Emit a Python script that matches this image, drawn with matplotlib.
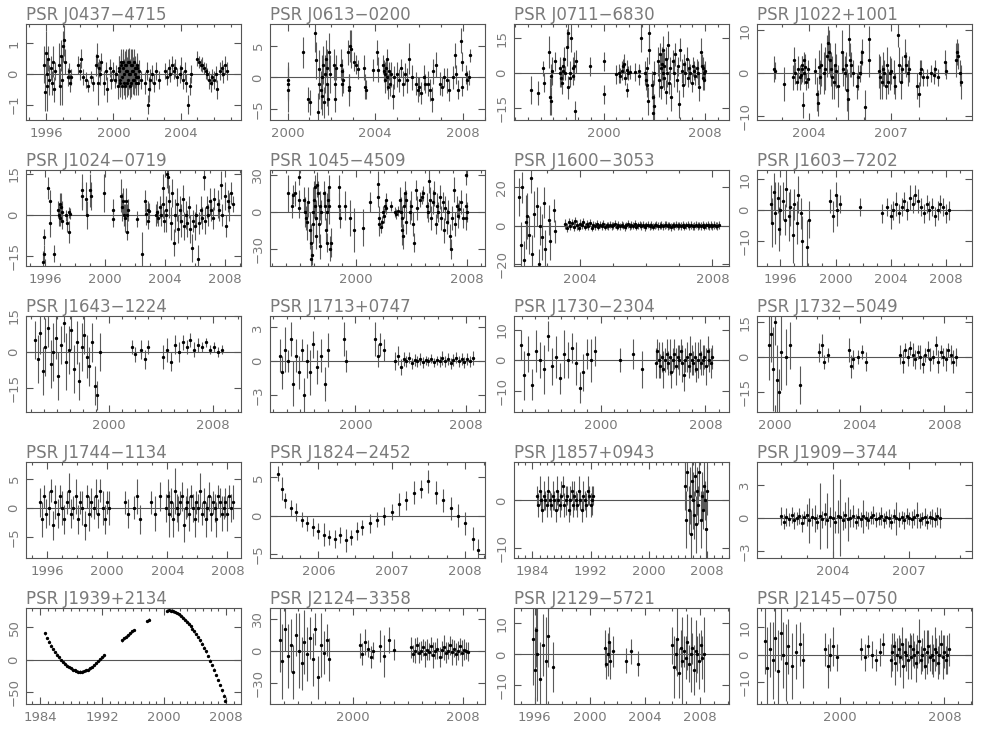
import numpy as np
import matplotlib
matplotlib.use("Agg")
import matplotlib.pyplot as plt
from matplotlib.ticker import MultipleLocator

# each row: year, residual, error (microseconds)
j0437 = np.array([
    [1995.90, 0.3, 0.6], [1995.95, -0.6, 0.6], [1996.00, 0.7, 0.7], [1996.03, 0.0, 0.5],
    [1996.06, -0.4, 0.8], [1996.10, 0.5, 0.4], [1996.14, -0.2, 0.5], [1996.30, 0.2, 0.4],
    [1996.36, -0.3, 0.4], [1996.42, 0.4, 0.5], [1996.48, -0.5, 0.4], [1996.55, 0.1, 0.3],
    [1996.75, 0.3, 0.7], [1996.82, -0.4, 0.6], [1996.88, 0.6, 0.5], [1996.95, -0.2, 0.8],
    [1997.02, 0.9, 0.5], [1997.08, 1.1, 0.5], [1997.14, 0.4, 0.4], [1997.30, -0.1, 0.3],
    [1997.36, 0.1, 0.25], [1997.42, -0.3, 0.3], [1997.50, -0.1, 0.25], [1997.90, 0.3, 0.3],
    [1998.00, 0.1, 0.3], [1998.10, 0.5, 0.3], [1998.20, -0.1, 0.25], [1998.40, -0.2, 0.25],
    [1998.52, -0.4, 0.2], [1998.65, -0.1, 0.2], [1998.78, -0.3, 0.25], [1998.95, 0.3, 0.35],
    [1999.02, 0.6, 0.4], [1999.08, -0.3, 0.7], [1999.14, 0.2, 0.3], [1999.20, 0.0, 0.35],
    [1999.28, 0.4, 0.3], [1999.45, -0.3, 0.4], [1999.55, 0.1, 0.3], [1999.65, -0.5, 0.4],
    [1999.78, 0.2, 0.3], [1999.88, -0.2, 0.3], [2000.00, 0.1, 0.3], [2000.08, -0.2, 0.25],
    [2000.16, 0.0, 0.3], [2000.28, -0.4, 0.4], [2000.31, 0.1, 0.5], [2000.34, 0.2, 0.4],
    [2000.37, -0.2, 0.5], [2000.40, -0.3, 0.45], [2000.43, 0.4, 0.4], [2000.46, 0.3, 0.4],
    [2000.49, -0.4, 0.4], [2000.52, -0.1, 0.5], [2000.55, 0.2, 0.5], [2000.58, 0.4, 0.4],
    [2000.61, -0.3, 0.4], [2000.64, 0.0, 0.5], [2000.67, 0.3, 0.45], [2000.70, -0.4, 0.4],
    [2000.73, 0.1, 0.5], [2000.76, 0.3, 0.5], [2000.79, -0.3, 0.45], [2000.82, 0.1, 0.45],
    [2000.85, 0.4, 0.4], [2000.88, -0.2, 0.5], [2000.91, 0.0, 0.5], [2000.94, 0.4, 0.45],
    [2000.97, -0.4, 0.4], [2001.00, 0.0, 0.5], [2001.03, 0.3, 0.5], [2001.06, -0.3, 0.45],
    [2001.09, 0.1, 0.5], [2001.12, 0.3, 0.5], [2001.15, -0.2, 0.45], [2001.18, 0.1, 0.45],
    [2001.21, 0.4, 0.4], [2001.24, -0.2, 0.5], [2001.27, 0.0, 0.45], [2001.30, 0.2, 0.4],
    [2001.33, -0.3, 0.4], [2001.36, -0.1, 0.45], [2001.39, 0.2, 0.4], [2001.42, 0.3, 0.4],
    [2001.45, -0.1, 0.4], [2001.48, -0.3, 0.4], [2001.55, 0.1, 0.35], [2001.62, -0.2, 0.3],
    [2001.90, -0.3, 0.35], [2001.98, 0.1, 0.3], [2002.05, -1.0, 0.3], [2002.12, -0.5, 0.4],
    [2002.20, -0.2, 0.35], [2002.30, 0.0, 0.3], [2002.42, -0.3, 0.3], [2002.55, 0.1, 0.3],
    [2002.70, -0.2, 0.3], [2003.10, 0.1, 0.25], [2003.20, -0.1, 0.25], [2003.30, 0.2, 0.3],
    [2003.40, 0.0, 0.25], [2003.50, 0.3, 0.3], [2003.60, 0.1, 0.25], [2003.70, 0.2, 0.3],
    [2003.80, -0.1, 0.3], [2003.95, 0.0, 0.3], [2004.05, 0.2, 0.35], [2004.15, -0.2, 0.3],
    [2004.25, 0.1, 0.3], [2004.35, -0.3, 0.3], [2004.45, -1.0, 0.3], [2004.55, -0.4, 0.3],
    [2004.65, 0.0, 0.3], [2005.00, 0.5, 0.25], [2005.10, 0.4, 0.2], [2005.20, 0.3, 0.2],
    [2005.30, 0.3, 0.25], [2005.40, 0.2, 0.2], [2005.50, 0.1, 0.25], [2005.60, 0.0, 0.2],
    [2005.70, -0.2, 0.3], [2005.80, -0.3, 0.3], [2005.90, -0.1, 0.25], [2006.00, -0.2, 0.3],
    [2006.10, 0.0, 0.25], [2006.20, -0.5, 0.3], [2006.35, 0.1, 0.3], [2006.45, 0.2, 0.25],
    [2006.55, 0.0, 0.3], [2006.65, 0.3, 0.3], [2006.75, 0.1, 0.3],
])

j0613 = np.array([
    [2000.00, -1.0, 2.8], [2000.02, -2.0, 3.5], [2000.04, -0.5, 3.0], [2000.70, 4.0, 2.5],
    [2000.95, -3.5, 2.0], [2001.02, -4.0, 2.0], [2001.25, 7.0, 3.0], [2001.28, 2.7, 3.0],
    [2001.40, -5.5, 3.0], [2001.42, 1.3, 3.0], [2001.45, -1.0, 2.5], [2001.52, -2.0, 3.0],
    [2001.55, 0.0, 3.5], [2001.58, -3.0, 3.0], [2001.62, 2.0, 3.0], [2001.65, -4.0, 2.5],
    [2001.70, 0.5, 3.0], [2001.73, 3.0, 3.0], [2001.78, -1.0, 3.5], [2001.82, 1.5, 3.0],
    [2001.86, -3.5, 2.5], [2001.90, 4.0, 3.0], [2001.95, 0.5, 3.0], [2002.10, 2.0, 2.5],
    [2002.14, -1.0, 2.5], [2002.18, -3.5, 2.0], [2002.22, 1.5, 2.0], [2002.45, 2.0, 2.5],
    [2002.48, 1.0, 2.0], [2002.50, -1.0, 2.0], [2002.53, -0.5, 2.0], [2002.75, 4.0, 2.0],
    [2002.78, -1.5, 2.0], [2002.80, -2.0, 2.5], [2002.85, 5.0, 2.5], [2002.90, 4.5, 3.0],
    [2003.05, 2.5, 1.5], [2003.10, 2.0, 1.5], [2003.20, 1.3, 1.5], [2003.50, 1.5, 2.0],
    [2003.53, -1.5, 2.0], [2003.56, -2.0, 1.5], [2003.90, 1.2, 1.8], [2004.10, 4.0, 2.0],
    [2004.13, 1.2, 2.0], [2004.35, 2.0, 1.5], [2004.38, 1.0, 1.8], [2004.42, 0.5, 2.0],
    [2004.45, -0.5, 2.0], [2004.48, 1.5, 1.5], [2004.52, 0.0, 2.0], [2004.55, 3.0, 1.5],
    [2004.58, -1.5, 2.0], [2004.62, 1.0, 1.5], [2004.65, -1.0, 2.0], [2004.70, 0.5, 2.0],
    [2004.80, -3.0, 2.0], [2004.85, 0.0, 1.8], [2005.00, 0.5, 2.0], [2005.10, -0.5, 1.8],
    [2005.15, 1.5, 1.5], [2005.25, -1.0, 2.0], [2005.35, 0.5, 1.8], [2005.45, -0.5, 2.0],
    [2005.55, 3.0, 2.5], [2005.65, 0.0, 2.0], [2005.85, -1.0, 1.8], [2005.95, -2.0, 2.0],
    [2006.00, -1.5, 1.5], [2006.10, -2.5, 1.8], [2006.20, 0.0, 2.0], [2006.28, -1.0, 1.5],
    [2006.40, -1.0, 2.0], [2006.50, -2.0, 1.8], [2006.58, -3.5, 2.0], [2006.65, 1.0, 2.0],
    [2006.75, 2.0, 2.0], [2006.95, -1.0, 1.8], [2007.05, -1.5, 1.5], [2007.15, 0.0, 1.5],
    [2007.25, -0.5, 2.0], [2007.35, -2.0, 1.8], [2007.55, 0.0, 1.8], [2007.62, 3.5, 2.0],
    [2007.70, 0.5, 1.5], [2007.78, -2.0, 1.5], [2007.90, 5.8, 2.0], [2007.94, 2.5, 1.5],
    [2007.97, -1.5, 1.5], [2008.15, 0.5, 1.5], [2008.20, -0.5, 1.5], [2008.25, 0.0, 1.2],
    [2008.32, 3.5, 1.0],
])

j0711 = np.array([
    [1994.25, -7, 6], [1994.80, -8.5, 5], [1995.20, 2, 3], [1995.25, -4, 4], [1995.70, 9, 7],
    [1995.75, -10, 8], [1995.80, -12, 6], [1995.85, -1, 5], [1995.90, 1, 6], [1996.15, 5, 4],
    [1996.50, 2, 5], [1996.55, 0, 6], [1996.60, -2, 4], [1996.70, -4, 5], [1996.75, 3, 4],
    [1996.80, 1, 4], [1996.85, 6, 5], [1996.90, 0, 3], [1997.10, 11, 8], [1997.15, 17, 6],
    [1997.20, -6, 5], [1997.30, 0, 5], [1997.35, -2, 4], [1997.40, 15, 6], [1997.55, 2, 5],
    [1997.60, -1, 4], [1997.65, 3, 6], [1997.75, -16, 4], [1997.80, 5, 5], [1998.90, 3, 4],
    [2000.00, 5, 4], [2000.05, -9, 4], [2000.95, -0.5, 4], [2001.20, 0, 4], [2001.30, -1, 3],
    [2001.40, 1, 4], [2001.50, 3, 3], [2001.60, 4, 4], [2001.70, -2, 3], [2001.80, 1.5, 4],
    [2001.85, -7, 3], [2001.95, 0, 3], [2002.10, 0.5, 3], [2002.50, 0.5, 4], [2002.75, 1, 3],
    [2002.80, -1, 4], [2002.95, 15, 6], [2003.25, 0, 5], [2003.30, -3, 4], [2003.40, -5, 5],
    [2003.45, 2, 5], [2003.50, -12, 6], [2003.55, 17, 7], [2003.60, 10, 6], [2003.85, -5, 6],
    [2003.90, -10, 7], [2003.93, -17, 6], [2003.96, -14, 5], [2004.00, 0, 5], [2004.30, 5, 6],
    [2004.40, -3, 7], [2004.45, 8, 5], [2004.50, 2, 6], [2004.55, -6, 5], [2004.60, 4, 7],
    [2004.65, 0, 6], [2004.70, 10, 6], [2004.75, -2, 5], [2004.80, 3, 6], [2004.90, -8, 5],
    [2004.95, 6, 5], [2005.00, 0, 6], [2005.10, 12, 6], [2005.15, -4, 5], [2005.25, 2, 5],
    [2005.35, -10, 6], [2005.45, 5, 5], [2005.55, 0, 6], [2005.65, 8, 5], [2005.75, -3, 5],
    [2005.85, 3, 4], [2005.95, -13, 6], [2006.05, 10, 5], [2006.15, 1, 5], [2006.25, -5, 5],
    [2006.35, 4, 4], [2006.45, 0, 5], [2006.55, 6, 5], [2006.65, -2, 4], [2006.75, 2, 4],
    [2006.85, 0, 4], [2006.95, -4, 4], [2007.05, 3, 4], [2007.15, 1, 4], [2007.25, -1, 4],
    [2007.35, 2, 4], [2007.45, 0, 5], [2007.55, -6, 6], [2007.65, 9, 6], [2007.75, 3, 5],
    [2007.82, 2, 5], [2007.88, -2, 5], [2007.92, 0, 4], [2007.96, -3, 4], [2008.00, 1, 4],
])

j1022 = np.array([
    [2002.73, 1, 3], [2002.76, 0.5, 2], [2003.07, -2.5, 4], [2003.40, -1, 3], [2003.45, 3, 3],
    [2003.50, 0, 2.5], [2003.55, -2, 2], [2003.60, 1, 3], [2003.68, -1, 3], [2003.72, -0.5, 2],
    [2003.74, 2, 2], [2003.76, 1, 3], [2003.78, -7.5, 3], [2003.80, 3, 2], [2003.82, 0, 2.5],
    [2003.85, 1.5, 3], [2003.88, -2, 2], [2003.95, 1, 2], [2003.98, -1.5, 2], [2004.20, 0.5, 3],
    [2004.30, -5, 4], [2004.33, -7, 3], [2004.36, 1.5, 4], [2004.40, -1, 4], [2004.45, 2, 5],
    [2004.55, 0, 5], [2004.60, 1, 5], [2004.65, 4, 5], [2004.70, 7, 4], [2004.72, 5, 5],
    [2004.75, 3, 4], [2004.80, 1, 4], [2004.85, -1, 5], [2004.90, -2, 4], [2004.95, 2, 5],
    [2005.00, 0.5, 4], [2005.05, -3, 5], [2005.20, 5, 5], [2005.25, 1, 4], [2005.30, 0, 4],
    [2005.35, 2, 3], [2005.40, -4, 5], [2005.42, -6, 6], [2005.45, 8, 4], [2005.50, 3, 4],
    [2005.55, 2, 3], [2005.60, 0, 3], [2005.75, -3, 3], [2005.80, -1, 3], [2005.85, 0, 2],
    [2005.90, 2.5, 3], [2005.95, 5, 3], [2006.05, -8, 4], [2006.18, 8, 3], [2006.20, 3, 4],
    [2006.55, 0.5, 4], [2006.60, -1, 5], [2006.65, -2, 4], [2006.70, 1, 4], [2006.75, 0, 3],
    [2006.80, -3, 3], [2006.85, 2, 4], [2006.90, -2, 3], [2006.95, 0, 4], [2007.00, 0.5, 3],
    [2007.10, -1, 4], [2007.15, -3, 3], [2007.25, 9, 3], [2007.30, 2, 4], [2007.35, -2, 4],
    [2007.40, 1, 3], [2007.50, 4, 4], [2007.55, 2, 3], [2007.60, 0, 3], [2007.65, 1, 3],
    [2007.95, -3, 3], [2008.00, -5, 3], [2008.05, 0, 3], [2008.10, 1, 2], [2008.15, -1, 2],
    [2008.30, -1, 2], [2008.45, 0, 2], [2008.55, -0.5, 2], [2008.60, 1, 2], [2008.70, -1, 2],
    [2008.95, 2.5, 3], [2009.00, 0.5, 2], [2009.35, 3, 4], [2009.40, 5, 3], [2009.45, 4, 3],
    [2009.50, 0, 3], [2009.55, -2, 4],
])

j1024 = np.array([
    [1995.85, -17, 4], [1995.88, -14, 3], [1995.92, -8, 3], [1996.15, 10, 4], [1996.30, 5, 4],
    [1996.33, -3, 5], [1996.60, -14, 3], [1996.85, 2, 3], [1996.90, 0, 4], [1996.95, 4, 4],
    [1997.00, -1, 3], [1997.05, 3, 5], [1997.10, 1, 4], [1997.12, -2, 3], [1997.35, 0, 2],
    [1997.45, -3, 3], [1997.55, -6, 4], [1997.60, 1, 2], [1997.65, 0.5, 2], [1998.45, 9, 6],
    [1998.48, 7, 5], [1998.75, 6, 6], [1998.80, 0, 5], [1999.00, 9, 6], [1999.05, 7, 5],
    [1999.90, 8, 7], [2000.50, 2, 4], [2000.53, -1.5, 3], [2001.05, 7, 6], [2001.10, 3, 5],
    [2001.20, 5, 5], [2001.25, 0, 4], [2001.30, -1, 5], [2001.40, 5, 5], [2001.45, 0, 4],
    [2001.48, -6, 3], [2001.52, 2, 4], [2002.15, -1.5, 3], [2002.50, -14, 8], [2002.70, 5, 4],
    [2002.75, 0.5, 4], [2002.85, 2, 3], [2002.90, -2, 3], [2002.95, 1.5, 3], [2003.40, 0, 4],
    [2003.50, 1, 4], [2003.55, -1, 3], [2003.65, 3, 4], [2003.75, 0, 4], [2003.85, 10, 5],
    [2003.90, 4, 5], [2003.95, -2, 4], [2004.05, 0, 6], [2004.10, 2, 5], [2004.15, 15, 5],
    [2004.20, 14, 6], [2004.30, 5, 6], [2004.40, -3, 6], [2004.50, 8, 5], [2004.60, -10, 5],
    [2004.70, 0, 6], [2004.80, 4, 6], [2004.90, -5, 5], [2005.00, 2, 5], [2005.10, -2, 6],
    [2005.20, 6, 5], [2005.30, -4, 5], [2005.40, 0, 5], [2005.50, -3, 5], [2005.60, 3, 4],
    [2005.70, -5, 5], [2005.80, -12, 5], [2005.90, -2, 4], [2006.00, -4, 5], [2006.10, 0, 4],
    [2006.20, -16, 5], [2006.30, -3, 4], [2006.40, 2, 5], [2006.50, -1, 4], [2006.60, 14, 5],
    [2006.70, -2, 5], [2006.80, 3, 4], [2006.90, 0, 4], [2007.00, 5, 5], [2007.10, 2, 4],
    [2007.20, -1, 4], [2007.30, 6, 4], [2007.55, 4, 5], [2007.65, 2, 4], [2007.75, 11, 5],
    [2007.85, 0, 4], [2008.00, 7, 5], [2008.10, -4, 4], [2008.20, 5, 4], [2008.30, 3, 5],
    [2008.45, 8, 4], [2008.55, 4, 3],
])

b1045 = np.array([
    [1995.10, 15, 15], [1995.40, 5, 10], [1995.45, 14, 8], [1995.65, 15, 10], [1995.90, 28, 6],
    [1995.92, 10, 8], [1995.95, 3, 8], [1996.30, 10, 10], [1996.35, 0, 12], [1996.40, -5, 10],
    [1996.50, -8, 15], [1996.55, 8, 12], [1996.70, -15, 15], [1996.75, -25, 15], [1996.80, -38, 10],
    [1996.85, -35, 8], [1996.90, -10, 15], [1996.95, 0, 20], [1997.00, 10, 15], [1997.05, 20, 10],
    [1997.10, 5, 12], [1997.12, -20, 10], [1997.15, -5, 15], [1997.18, 22, 10], [1997.30, 15, 10],
    [1997.35, -10, 15], [1997.40, -28, 10], [1997.45, 5, 12], [1997.50, 0, 10], [1997.75, 15, 10],
    [1997.80, 5, 12], [1997.85, -15, 10], [1997.90, -25, 8], [1997.95, 0, 15], [1998.00, 10, 10],
    [1998.05, 20, 10], [1998.10, 5, 15], [1998.15, -30, 10], [1998.20, -25, 12], [1998.80, 20, 10],
    [1998.82, 5, 10], [1998.85, -5, 8], [1999.20, 5, 12], [1999.60, -5, 15], [1999.90, -15, 18],
    [2000.55, -13, 15], [2001.05, 8, 8], [2001.60, 23, 10], [2001.62, 12, 8], [2001.65, -5, 10],
    [2001.68, -10, 10], [2001.85, -12, 5], [2001.90, -8, 5], [2001.95, 0, 5], [2002.00, -3, 6],
    [2002.10, 5, 5], [2002.15, 3, 5], [2002.20, 10, 5], [2002.55, 5, 4], [2002.80, 0, 4],
    [2002.90, -2, 4], [2003.05, 1, 4], [2003.20, 10, 10], [2003.25, 0, 12], [2003.30, -5, 10],
    [2003.35, -15, 12], [2003.40, -20, 10], [2003.50, 5, 10], [2003.55, 15, 10], [2003.60, 10, 8],
    [2003.65, -8, 10], [2003.90, 0, 10], [2004.00, 5, 12], [2004.10, -10, 10], [2004.20, -25, 8],
    [2004.30, 18, 8], [2004.40, 3, 10], [2004.60, 10, 6], [2004.75, 12, 6], [2004.85, 15, 6],
    [2005.10, 5, 10], [2005.20, 0, 8], [2005.30, 25, 10], [2005.35, 10, 10], [2005.45, -5, 10],
    [2005.55, 8, 10], [2005.65, 15, 10], [2005.75, -10, 8], [2005.85, 5, 10], [2005.95, 0, 8],
    [2006.05, 12, 10], [2006.15, -5, 10], [2006.25, 8, 8], [2006.35, -15, 10], [2006.45, 3, 10],
    [2006.55, -8, 10], [2006.65, 0, 10], [2006.75, -20, 10], [2006.85, -30, 8], [2006.95, -5, 10],
    [2007.05, 18, 10], [2007.15, -10, 10], [2007.25, 5, 8], [2007.35, -3, 10], [2007.45, 2, 8],
    [2007.55, 8, 10], [2007.70, -5, 8], [2007.90, 30, 8], [2007.93, 5, 10], [2007.96, -5, 10],
    [2008.00, 0, 8],
])

j1600 = np.array([
    [2002.15, 15, 10], [2002.20, -10, 12], [2002.25, 20, 8], [2002.30, -18, 10], [2002.35, 2, 14],
    [2002.40, 5, 12], [2002.45, -5, 10], [2002.50, 25, 8], [2002.55, -15, 10], [2002.60, 6, 12],
    [2002.70, 10, 10], [2002.75, -20, 8], [2002.80, 0, 10], [2002.85, -6, 12], [2002.90, 12, 8],
    [2002.95, -12, 10], [2003.05, 3, 8], [2003.10, -8, 10], [2003.20, 8, 6], [2003.25, -3, 6],
    [2003.55, 1.0, 2.5], [2003.60, -1.0, 2.5], [2003.65, 2.0, 2.2], [2003.70, 0.0, 2.5],
    [2003.75, 1.5, 2.0], [2003.80, -0.5, 2.5], [2003.85, 2.5, 2.0], [2003.90, 0.5, 2.5],
    [2003.95, -1.0, 2.0], [2004.00, 1.0, 2.5], [2004.05, 0.5, 2.0], [2004.10, 2.0, 2.0],
    [2004.15, -0.5, 2.0], [2004.20, 1.0, 2.0], [2004.25, 0.0, 2.0], [2004.30, 1.5, 1.8],
    [2004.35, -1.0, 2.0], [2004.40, 0.5, 1.8], [2004.45, 0.0, 2.0], [2004.50, 1.0, 1.8],
    [2004.55, -0.5, 1.8], [2004.60, 0.5, 1.8], [2004.65, 0.0, 2.0], [2004.70, 1.0, 1.8],
    [2004.75, -0.5, 2.0], [2004.80, 0.3, 1.8], [2004.85, 0.0, 2.0], [2004.90, 0.5, 1.8],
    [2004.95, -0.3, 2.0], [2005.00, 0.2, 1.8], [2005.05, 0.8, 2.0], [2005.10, -0.6, 1.8],
    [2005.15, 0.4, 2.0], [2005.20, -0.2, 1.8], [2005.25, 0.6, 2.0], [2005.30, 0.0, 1.8],
    [2005.35, -0.8, 2.0], [2005.40, 0.3, 1.8], [2005.45, 0.9, 2.0], [2005.50, -0.4, 1.8],
    [2005.55, 0.2, 2.0], [2005.60, -0.1, 1.8], [2005.65, 0.7, 2.0], [2005.70, -0.5, 1.8],
    [2005.75, 0.1, 2.0], [2005.80, 0.4, 1.8], [2005.85, -0.3, 2.0], [2005.90, 0.5, 1.8],
    [2005.95, -0.6, 2.0], [2006.00, 0.2, 1.8], [2006.05, 0.6, 2.0], [2006.10, -0.2, 1.8],
    [2006.15, 0.3, 2.0], [2006.20, -0.5, 1.8], [2006.25, 0.1, 2.0], [2006.30, 0.5, 1.8],
    [2006.35, -0.3, 2.0], [2006.40, 0.0, 1.8], [2006.45, 0.4, 2.0], [2006.50, -0.4, 1.8],
    [2006.55, 0.2, 2.0], [2006.60, 0.6, 1.8], [2006.65, -0.2, 2.0], [2006.70, 0.1, 1.8],
    [2006.75, -0.6, 2.0], [2006.80, 0.3, 1.8], [2006.85, 0.0, 2.0], [2006.90, 0.5, 1.8],
    [2006.95, -0.3, 2.0], [2007.00, 0.2, 1.8], [2007.05, -0.1, 2.0], [2007.10, 0.4, 1.8],
    [2007.15, -0.5, 2.0], [2007.20, 0.1, 1.8], [2007.25, 0.6, 2.0], [2007.30, -0.2, 1.8],
    [2007.35, 0.3, 2.0], [2007.40, -0.4, 1.8], [2007.45, 0.0, 2.0], [2007.50, 0.5, 1.8],
    [2007.55, -0.3, 2.0], [2007.60, 0.2, 1.8], [2007.65, -0.1, 2.0], [2007.70, 0.4, 1.8],
    [2007.75, -0.5, 2.0], [2007.80, 0.1, 1.8], [2007.85, 0.3, 2.0], [2007.90, -0.2, 1.8],
    [2007.95, 0.5, 2.0], [2008.00, -0.4, 1.8], [2008.05, 0.2, 2.0], [2008.10, 0.0, 1.8],
    [2008.15, -0.3, 2.0], [2008.20, 0.3, 2.0],
])

j1603 = np.array([
    [1995.3, 2, 6], [1995.4, -4, 8], [1995.5, 6, 6], [1995.6, -1, 10], [1995.8, 4, 5],
    [1995.9, -6, 7], [1996.0, 0, 8], [1996.2, 3, 6], [1996.3, -3, 5], [1996.4, 7, 6],
    [1996.6, -2, 8], [1996.7, 1, 6], [1996.9, -8, 9], [1997.0, 2, 5], [1997.2, -4, 7],
    [1997.3, 5, 6], [1997.5, -1, 5], [1997.6, -10, 8], [1997.9, -12, 9], [1998.1, -3, 6],
    [1999.6, 3, 4], [1999.8, -2, 5], [2000.0, 5, 4], [2000.1, 0, 5], [2000.3, 2, 3],
    [2001.8, 1, 3], [2003.4, -1, 3], [2003.7, 1, 3], [2004.0, -2, 4], [2004.2, 0, 3],
    [2004.4, 2, 4], [2004.6, -1, 3], [2004.8, 1, 3], [2005.0, 3, 3], [2005.2, 0, 3],
    [2005.4, 4, 4], [2005.6, 2, 3], [2005.8, 5, 3], [2006.0, 3, 4], [2006.2, 1, 3],
    [2006.4, -1, 3], [2006.6, 2, 3], [2006.8, 0, 3], [2007.0, 1, 3], [2007.2, -2, 3],
    [2007.4, 0, 3], [2007.6, 2, 3], [2007.8, 1, 3], [2008.0, -1, 3], [2008.2, 0, 3],
])

j1643 = np.array([
    [1994.3, 5, 8], [1994.5, -3, 10], [1994.7, 8, 9], [1994.9, -8, 10], [1995.1, 2, 12],
    [1995.3, 10, 8], [1995.5, -5, 10], [1995.7, 0, 12], [1995.9, 6, 9], [1996.1, -10, 10],
    [1996.3, 3, 8], [1996.5, 12, 8], [1996.7, -4, 12], [1996.9, 1, 10], [1997.1, 9, 8],
    [1997.3, -7, 10], [1997.5, 4, 9], [1997.7, -12, 8], [1997.9, 2, 10], [1998.1, 7, 8],
    [1998.3, -2, 9], [1998.5, -6, 8], [1998.7, 4, 8], [1998.9, -14, 8], [1999.1, -18, 6],
    [1999.3, 0, 8], [2001.8, 2, 3], [2002.0, -1, 3], [2002.5, 1, 4], [2002.8, -3, 4],
    [2003.0, 2, 3], [2004.2, -2, 5], [2004.5, 1, 5], [2004.8, -4, 4], [2005.1, 3, 4],
    [2005.4, 0, 4], [2005.7, 4, 3], [2006.0, 2, 3], [2006.3, 5, 3], [2006.6, 1, 3],
    [2006.9, 3, 3], [2007.2, 2, 2], [2007.5, 4, 2], [2007.8, 1, 2], [2008.1, 2, 2],
    [2008.4, 0, 2], [2008.7, 1, 2],
])

j1713 = np.array([
    [1994.5, 0.5, 1.5], [1994.7, -1, 1.5], [1994.9, 1, 2], [1995.1, 0, 1], [1995.3, 2, 1.5],
    [1995.5, -2, 2], [1995.7, 0.5, 1.5], [1995.9, -1, 1.5], [1996.1, 1, 1], [1996.3, -3, 1.5],
    [1996.5, 0, 1.5], [1996.7, -1, 2], [1996.9, 1.5, 1.2], [1997.2, -0.5, 1.5], [1997.5, 0.5, 1.5],
    [1997.8, -2, 1.5], [1998.0, 1, 1.5], [1999.2, 2, 1.5], [1999.3, 0, 1], [2001.4, 2, 1.5],
    [2001.6, 0.5, 1], [2001.8, 1.5, 1], [2002.1, 1, 1], [2002.9, 0, 0.8], [2003.1, 0.5, 0.8],
    [2003.3, -0.5, 0.7], [2003.5, 0.2, 0.6], [2003.7, 0, 0.5], [2003.9, 0.3, 0.5], [2004.1, -0.2, 0.5],
    [2004.3, 0.1, 0.5], [2004.5, 0, 0.5], [2004.7, 0.2, 0.5], [2004.9, -0.1, 0.5], [2005.1, 0.1, 0.4],
    [2005.3, 0, 0.4], [2005.5, 0.2, 0.4], [2005.7, -0.1, 0.4], [2005.9, 0.1, 0.4], [2006.1, 0, 0.5],
    [2006.3, 0.3, 0.6], [2006.5, 0, 0.5], [2006.7, 0.2, 0.5], [2006.9, -0.2, 0.5], [2007.1, 0.1, 0.5],
    [2007.3, 0.3, 0.5], [2007.5, 0, 0.5], [2007.7, 0.2, 0.5], [2007.9, -0.1, 0.5], [2008.1, 0.2, 0.5],
    [2008.3, 0, 0.5], [2008.5, 0.3, 0.6],
])

j1730 = np.array([
    [1993.9, 5, 5], [1994.2, -5, 8], [1994.5, 2, 6], [1994.8, -8, 5], [1995.1, 3, 7],
    [1995.4, 0, 6], [1995.7, -3, 8], [1996.0, 8, 5], [1996.3, -2, 6], [1996.6, 1, 7],
    [1996.9, -6, 5], [1997.2, 2, 8], [1997.5, 0, 6], [1997.8, 4, 5], [1998.1, -1, 7],
    [1998.4, -9, 5], [1998.7, -4, 6], [1999.0, 2, 5], [1999.3, 0, 7], [1999.6, 3, 5],
    [2001.5, 0, 4], [2002.5, 2, 5], [2003.2, -3, 6],
    [2004.20, -1, 5], [2004.32, 3, 4], [2004.44, 0, 6], [2004.56, -2, 4], [2004.68, 1, 5],
    [2004.80, -3, 6], [2004.92, 0, 4], [2005.04, 2, 5], [2005.16, -1, 4], [2005.28, 1, 6],
    [2005.40, -4, 5], [2005.52, 0, 4], [2005.64, 2, 5], [2005.76, -2, 6], [2005.88, 1, 4],
    [2006.00, 0, 5], [2006.12, 3, 4], [2006.24, -1, 6], [2006.36, -5, 5], [2006.48, 0, 4],
    [2006.60, 1, 5], [2006.72, -2, 4], [2006.84, 2, 6], [2006.96, 0, 5], [2007.08, -1, 4],
    [2007.20, 1, 5], [2007.32, -3, 4], [2007.44, 0, 6], [2007.56, 2, 5], [2007.68, -1, 4],
    [2007.80, 0, 5], [2007.92, 1, 4], [2008.04, -2, 6], [2008.16, 3, 5], [2008.28, 0, 4],
    [2008.40, -1, 5], [2008.52, 1, 4],
])

j1732 = np.array([
    [1999.7, 5, 15], [1999.8, 10, 12], [1999.9, -5, 18], [2000.0, 15, 10], [2000.1, -10, 15],
    [2000.2, -15, 10], [2000.3, 2, 16], [2000.5, 0, 12], [2000.7, 5, 10], [2001.2, -12, 8],
    [2002.1, 2, 4], [2002.2, 5, 5], [2002.3, -2, 3], [2002.5, 1, 3], [2003.5, 3, 5],
    [2003.6, -4, 5], [2003.7, -1, 4], [2003.9, 0, 3], [2004.1, 2, 3], [2004.3, -2, 4],
    [2005.90, 1, 4], [2006.02, -2, 5], [2006.14, 3, 3], [2006.26, 0, 4], [2006.38, 4, 3],
    [2006.50, 1, 5], [2006.62, -1, 4], [2006.74, 2, 3], [2006.86, 0, 5], [2006.98, -3, 4],
    [2007.10, 1, 3], [2007.22, 3, 4], [2007.34, -1, 5], [2007.46, 0, 3], [2007.58, 5, 4],
    [2007.70, -2, 5], [2007.82, 2, 3], [2007.94, 0, 4], [2008.06, -1, 5], [2008.18, 3, 3],
    [2008.30, 1, 4], [2008.42, -2, 5], [2008.54, 0, 4],
])

j1744 = np.array([
    [1995.50, 1, 2.5], [1995.65, -2, 3], [1995.80, 2, 2], [1995.95, -1, 2.5], [1996.10, 0, 3],
    [1996.25, 3, 2], [1996.40, -3, 2.5], [1996.55, 1, 3], [1996.70, -1, 2.5], [1996.85, 2, 2],
    [1997.00, 0, 3], [1997.15, -2, 2.5], [1997.30, 1, 2], [1997.45, 3, 3], [1997.60, -1, 2.5],
    [1997.75, 0, 2], [1997.90, 2, 3], [1998.05, -2, 2.5], [1998.20, 1, 2], [1998.35, 0, 3],
    [1998.50, -3, 2.5], [1998.65, 2, 2], [1998.80, -1, 3], [1998.95, 1, 2.5], [1999.10, 0, 2],
    [1999.25, 2, 3], [1999.40, -1, 2.5], [1999.55, 3, 2], [1999.70, 0, 3], [1999.85, -2, 2.5],
    [2000.00, 1, 2], [2000.15, 0, 3],
    [2001.2, 1, 2], [2001.4, -1, 2.5], [2001.8, 0, 2], [2002.0, 2, 3], [2002.2, -2, 2.5],
    [2002.9, 1, 2], [2003.2, -1, 3], [2003.5, 2, 2.5],
    [2003.90, 0, 2.5], [2004.02, 2, 3], [2004.14, -1, 4], [2004.26, 1, 2.5], [2004.38, -2, 3],
    [2004.50, 3, 4], [2004.62, 0, 2.5], [2004.74, -1, 3], [2004.86, 1, 2], [2004.98, 2, 2.5],
    [2005.10, -3, 3], [2005.22, 0, 2], [2005.34, 1, 2.5], [2005.46, -1, 3], [2005.58, 2, 2],
    [2005.70, 0, 2.5], [2005.82, -2, 3], [2005.94, 1, 2], [2006.06, 0, 2.5], [2006.18, 3, 3],
    [2006.30, -1, 2], [2006.42, 1, 2.5], [2006.54, -2, 3], [2006.66, 0, 2], [2006.78, 2, 2.5],
    [2006.90, -1, 3], [2007.02, 1, 2], [2007.14, 0, 2.5], [2007.26, -2, 3], [2007.38, 2, 2],
    [2007.50, 1, 2.5], [2007.62, -1, 3], [2007.74, 0, 2], [2007.86, 1, 2.5], [2007.98, -1, 3],
    [2008.10, 2, 2], [2008.22, 0, 2.5], [2008.34, 1, 3],
])

j1824 = np.array([
    [2005.45, 5.5, 1], [2005.50, 3.5, 1.5], [2005.55, 2.0, 1], [2005.62, 1.0, 1], [2005.70, 0.5, 1.2],
    [2005.78, -0.5, 1], [2005.85, -1.0, 1], [2005.92, -1.5, 1.2], [2006.00, -2.0, 1], [2006.08, -2.5, 1.5],
    [2006.15, -2.8, 1], [2006.22, -3.0, 1.2], [2006.30, -2.5, 1], [2006.38, -3.2, 1.5], [2006.45, -2.8, 1],
    [2006.52, -2.0, 1.2], [2006.60, -1.5, 1], [2006.70, -1.0, 1.2], [2006.80, -0.5, 1], [2006.90, 0.0, 1.2],
    [2007.00, 0.5, 1], [2007.10, 1.5, 1.5], [2007.20, 2.0, 1.2], [2007.30, 3.0, 1.5], [2007.40, 3.5, 1.2],
    [2007.50, 4.5, 1.5], [2007.60, 3.0, 1.5], [2007.70, 2.0, 1.5], [2007.80, 1.0, 1.5], [2007.90, 0.0, 1.5],
    [2008.00, -1.0, 1.5], [2008.10, -3.0, 1.5], [2008.18, -4.5, 1.5],
])

j1857 = np.array([
    [1984.6, 1, 2], [1984.8, -1, 2.5], [1985.0, 2, 3], [1985.2, 0, 2], [1985.4, -2, 2.5],
    [1985.6, 1, 3], [1985.8, 0, 2], [1986.0, -1, 2.5], [1986.2, 2, 3], [1986.4, 0, 2],
    [1986.6, -1, 2.5], [1986.8, 1, 3], [1987.0, 0, 2], [1987.2, -2, 2.5], [1987.4, 2, 3],
    [1987.6, 0, 2], [1987.8, -1, 2.5], [1988.0, 1, 3], [1988.2, 3, 2], [1988.4, -1, 2.5],
    [1988.6, 0, 3], [1988.8, 1, 2], [1989.0, -2, 2.5], [1989.2, 0, 3], [1989.4, 2, 2],
    [1989.6, -1, 2.5], [1989.8, 1, 3], [1990.0, 0, 2], [1990.2, -1, 2.5], [1990.4, 2, 3],
    [1990.6, 0, 2], [1990.8, -2, 2.5], [1991.0, 1, 3], [1991.2, 0, 2], [1991.4, -1, 2.5],
    [1991.6, 2, 3], [1991.8, 1, 2], [1992.0, -1, 2.5], [1992.2, 0, 3], [1992.4, 1, 2],
    [2005.00, 3, 5], [2005.15, -4, 6], [2005.30, 6, 4], [2005.45, -2, 5], [2005.60, 1, 6],
    [2005.75, -7, 5], [2005.90, 4, 4], [2006.05, 0, 6], [2006.20, -3, 5], [2006.35, 5, 4],
    [2006.50, -5, 6], [2006.65, 2, 5], [2006.80, -1, 4], [2006.95, 6, 5], [2007.10, -4, 6],
    [2007.25, 1, 5], [2007.40, -2, 4], [2007.55, 3, 5], [2007.70, 0, 4], [2007.85, -6, 6],
    [2008.00, 2, 5],
])

j1909 = np.array([
    [2002.0, 0.2, 0.8], [2002.1, -0.3, 0.7], [2002.2, 0.1, 0.8], [2002.3, -0.1, 0.6], [2002.4, 0.3, 0.7],
    [2002.5, -0.2, 0.8], [2002.6, 0.0, 0.6], [2002.7, 0.2, 0.7], [2002.8, -0.4, 0.8], [2002.9, 0.1, 0.6],
    [2003.0, 0.3, 1.0], [2003.1, -0.2, 2.0], [2003.2, 0.1, 0.8], [2003.3, 0.0, 1.2], [2003.4, -0.3, 0.7],
    [2003.5, 0.2, 3.0], [2003.6, -0.1, 0.8], [2003.7, 0.4, 1.0], [2003.8, -0.2, 2.5], [2003.9, 0.1, 0.9],
    [2004.0, 0.0, 4.0], [2004.1, -0.3, 1.0], [2004.2, 0.2, 1.5], [2004.3, 0.1, 3.5], [2004.4, -0.2, 0.9],
    [2004.5, 0.3, 1.2], [2004.6, -0.1, 2.0], [2004.7, 0.0, 0.8], [2004.8, 0.2, 1.0], [2004.9, -0.3, 0.7],
    [2005.0, 0.1, 0.8], [2005.1, -0.1, 0.7], [2005.2, 0.2, 1.5], [2005.3, 0.0, 0.7], [2005.4, -0.2, 0.8],
    [2005.5, 0.1, 0.6], [2005.6, 0.3, 0.8], [2005.7, -0.1, 0.7], [2005.8, 0.0, 0.6], [2005.9, 0.2, 0.8],
    [2006.0, -0.2, 0.7], [2006.1, 0.1, 0.6], [2006.2, 0.0, 0.8], [2006.3, -0.3, 0.7], [2006.4, 0.2, 0.6],
    [2006.5, 0.0, 1.5], [2006.6, -0.1, 0.7], [2006.7, 0.1, 0.6], [2006.8, -0.2, 0.8], [2006.9, 0.2, 0.7],
    [2007.0, 0.0, 0.6], [2007.1, -0.1, 0.8], [2007.2, 0.1, 0.7], [2007.3, 0.3, 1.2], [2007.4, -0.2, 0.7],
    [2007.5, 0.0, 0.6], [2007.6, 0.1, 0.8], [2007.7, -0.3, 0.7], [2007.8, 0.1, 0.6], [2007.9, 0.0, 0.8],
    [2008.0, -0.1, 0.7], [2008.1, 0.2, 0.8], [2008.2, 0.0, 0.9],
])

j1939 = np.array([
    [1984.70, 41, 2], [1984.95, 34, 2], [1985.20, 28, 2], [1985.45, 22, 2], [1985.70, 17, 2],
    [1985.95, 12, 2], [1986.20, 8, 2], [1986.45, 4, 2], [1986.70, 0, 2], [1986.95, -3, 2],
    [1987.20, -6, 2], [1987.45, -9, 2], [1987.70, -11, 2], [1987.95, -13, 2], [1988.20, -15, 2],
    [1988.45, -16, 2], [1988.70, -17, 2], [1988.95, -18, 2], [1989.20, -18, 2], [1989.45, -18, 2],
    [1989.70, -17, 2], [1989.95, -16, 2], [1990.20, -15, 2], [1990.45, -13, 2], [1990.70, -11, 2],
    [1990.95, -8, 2], [1991.20, -5, 2], [1991.45, -2, 2], [1991.70, 1, 2], [1991.95, 4, 2],
    [1992.20, 7, 2], [1994.60, 30, 2], [1994.85, 33, 2], [1995.10, 36, 2], [1995.35, 38, 2],
    [1995.60, 41, 2], [1995.85, 44, 2], [1996.10, 46, 2], [1997.80, 60, 2], [1998.00, 62, 2],
    [2000.40, 76, 2], [2000.65, 77, 2], [2000.90, 76, 2], [2001.15, 75, 2], [2001.40, 74, 2],
    [2001.65, 72, 2], [2001.90, 70, 2], [2002.15, 68, 2], [2002.40, 65, 2], [2002.65, 62, 2],
    [2002.90, 59, 2], [2003.15, 56, 2], [2003.40, 52, 2], [2003.65, 48, 2], [2003.90, 44, 2],
    [2004.15, 40, 2], [2004.40, 35, 2], [2004.65, 30, 2], [2004.90, 25, 2], [2005.15, 19, 2],
    [2005.40, 13, 2], [2005.65, 6, 2], [2005.90, -1, 2], [2006.15, -8, 2], [2006.40, -15, 2],
    [2006.65, -23, 2], [2006.90, -31, 2], [2007.15, -39, 2], [2007.40, -47, 2], [2007.65, -55, 2],
    [2007.90, -63, 2],
])

j2124 = np.array([
    [1994.7, 10, 30], [1994.9, -10, 35], [1995.1, 20, 20], [1995.3, -5, 30], [1995.5, 5, 25],
    [1995.7, -20, 25], [1995.9, 15, 20], [1996.1, 0, 35], [1996.3, -12, 25], [1996.5, 8, 30],
    [1996.7, -3, 25], [1996.9, 12, 20], [1997.1, -8, 25], [1997.3, 20, 15], [1997.5, -25, 20],
    [1997.7, 5, 30], [1997.9, -2, 20], [1998.1, 10, 15], [1998.3, -8, 20],
    [2000.5, 5, 12], [2000.7, -3, 10], [2000.9, 8, 12], [2001.1, 2, 8], [2001.3, -6, 10],
    [2001.5, 0, 8], [2002.0, 4, 15], [2002.3, -5, 20], [2002.6, 10, 12], [2003.0, 1, 10],
    [2004.20, 3, 10], [2004.35, -3, 8], [2004.50, 0, 12], [2004.65, 5, 8], [2004.80, -2, 10],
    [2004.95, 0, 9], [2005.10, 3, 8], [2005.25, -3, 12], [2005.40, 1, 10], [2005.55, -1, 8],
    [2005.70, 4, 9], [2005.85, -4, 12], [2006.00, 0, 8], [2006.15, 2, 10], [2006.30, -6, 9],
    [2006.45, 1, 8], [2006.60, 3, 12], [2006.75, -2, 10], [2006.90, 0, 8], [2007.05, 5, 9],
    [2007.20, -1, 12], [2007.35, 2, 8], [2007.50, -3, 10], [2007.65, 0, 9], [2007.80, 4, 8],
    [2007.95, -2, 12], [2008.10, 1, 10], [2008.25, 0, 8], [2008.40, -1, 9],
])

j2129 = np.array([
    [1995.9, 5, 15], [1996.0, -5, 14], [1996.1, 8, 12], [1996.2, 0, 15], [1996.4, -8, 12],
    [1996.6, 3, 10], [1996.8, -2, 14], [1997.0, 6, 10], [1997.3, -4, 8],
    [2001.1, 2, 6], [2001.2, -3, 5], [2001.3, 0, 7], [2001.4, 4, 5], [2001.5, -2, 6],
    [2001.7, 1, 5], [2002.6, -2, 4], [2003.0, 1, 4], [2003.5, -3, 4],
    [2006.00, 3, 6], [2006.12, -4, 10], [2006.24, 0, 5], [2006.36, 5, 12], [2006.48, -6, 8],
    [2006.60, 2, 6], [2006.72, -2, 14], [2006.84, 1, 5], [2006.96, -1, 7], [2007.08, 4, 9],
    [2007.20, -3, 6], [2007.32, 0, 12], [2007.44, 2, 5], [2007.56, -5, 8], [2007.68, 1, 10],
    [2007.80, 0, 6], [2007.92, -2, 9], [2008.04, 3, 5], [2008.16, -1, 7], [2008.28, 0, 12],
])

j2145 = np.array([
    [1994.3, 5, 12], [1994.5, -5, 15], [1994.7, 2, 10], [1994.9, -2, 14], [1995.1, 6, 12],
    [1995.3, -6, 15], [1995.5, 8, 10], [1995.7, 0, 12], [1995.9, -3, 14], [1996.1, 3, 10],
    [1996.4, -4, 12], [1996.7, 1, 10], [1997.0, 4, 8], [1997.2, -2, 10],
    [1998.9, 2, 6], [1999.1, -4, 8], [1999.3, 0, 6], [1999.5, 3, 7], [1999.8, -1, 5],
    [2001.6, 2, 4], [2001.9, -1, 5], [2002.2, 3, 4], [2002.5, 0, 5], [2002.8, -2, 4],
    [2003.1, 1, 5], [2003.3, 4, 4],
    [2003.90, -2, 6], [2004.02, 1, 7], [2004.14, 3, 5], [2004.26, -3, 8], [2004.38, 0, 6],
    [2004.50, 2, 5], [2004.62, -1, 7], [2004.74, 4, 6], [2004.86, -4, 8], [2004.98, 1, 5],
    [2005.10, 0, 6], [2005.22, -2, 7], [2005.34, 3, 5], [2005.46, -1, 8], [2005.58, 2, 6],
    [2005.70, 0, 5], [2005.82, -3, 7], [2005.94, 1, 6], [2006.06, 5, 8], [2006.18, -2, 5],
    [2006.30, 0, 6], [2006.42, 2, 7], [2006.54, -4, 5], [2006.66, 1, 8], [2006.78, 3, 6],
    [2006.90, -1, 5], [2007.02, 0, 7], [2007.14, -2, 6], [2007.26, 2, 8], [2007.38, 1, 5],
    [2007.50, -3, 6], [2007.62, 0, 7], [2007.74, 4, 5], [2007.86, -1, 8], [2007.98, 1, 6],
    [2008.10, -2, 5], [2008.22, 0, 7], [2008.34, 2, 6],
])

# name, data, x range, y range, x major step, y major step
panels = [
    ("PSR J0437\u22124715", j0437, (1994.8, 2007.6), (-1.5, 1.63), 4, 1),
    ("PSR J0613\u22120200", j0613, (1999.2, 2009.0), (-6.8, 8.5), 4, 5),
    ("PSR J0711\u22126830", j0711, (1992.9, 2009.9), (-20, 21), 8, 15),
    ("PSR J1022+1001", j1022, (2002.1, 2009.95), (-11, 11.5), 3, 10),
    ("PSR J1024\u22120719", j1024, (1994.7, 2009.1), (-18.5, 16.4), 4, 15),
    ("PSR 1045\u22124509", b1045, (1993.83, 2009.3), (-44, 34), 8, 30),
    ("PSR J1600\u22123053", j1600, (2002.0, 2008.5), (-21, 29), 4, 20),
    ("PSR J1603\u22127202", j1603, (1994.3, 2009.9), (-18, 13), 4, 10),
    ("PSR J1643\u22121224", j1643, (1993.6, 2010.2), (-25, 15), 8, 15),
    ("PSR J1713+0747", j1713, (1993.8, 2009.4), (-4.5, 4), 8, 3),
    ("PSR J1730\u22122304", j1730, (1993.4, 2009.8), (-17, 14.5), 8, 10),
    ("PSR J1732\u22125049", j1732, (1999.15, 2009.3), (-23.6, 17.6), 4, 15),
    ("PSR J1744\u22121134", j1744, (1994.6, 2008.9), (-8.7, 8), 4, 5),
    ("PSR J1824\u22122452", j1824, (2005.34, 2008.27), (-5.5, 7), 1, 5),
    ("PSR J1857+0943", j1857, (1981.5, 2011.0), (-12, 8), 8, 10),
    ("PSR J1909\u22123744", j1909, (2001.05, 2009.45), (-3.6, 5.1), 3, 3),
    ("PSR J1939+2134", j1939, (1982.2, 2009.9), (-68, 80), 8, 50),
    ("PSR J2124\u22123358", j2124, (1994.0, 2009.6), (-50, 40), 8, 30),
    ("PSR J2129\u22125721", j2129, (1994.5, 2010.1), (-16, 15), 4, 10),
    ("PSR J2145\u22120750", j2145, (1993.7, 2010.1), (-18, 17), 8, 10),
]

W, H = 981, 730
col_left = [26, 270, 514, 757]
row_top = [24, 170, 316, 462, 608]
box_w, box_h = 215, 96
text_col = "#7a7a7a"
line_col = "#555555"

fig = plt.figure(figsize=(W / 100, H / 100), dpi=100)

for i, (name, d, xr, yr, xstep, ystep) in enumerate(panels):
    row, col = divmod(i, 4)
    x0 = col_left[col]
    y0 = row_top[row]
    ax = fig.add_axes([x0 / W, 1 - (y0 + box_h) / H, box_w / W, box_h / H])

    ax.axhline(0, color=line_col, lw=0.8, zorder=1)
    ax.errorbar(d[:, 0], d[:, 1], yerr=d[:, 2], fmt="o", ms=1.4,
                mfc="black", mec="black", ecolor="#5a5a5a", elinewidth=0.8,
                capsize=0, zorder=2)
    ax.set_xlim(*xr)
    ax.set_ylim(*yr)

    ax.xaxis.set_major_locator(MultipleLocator(xstep))
    ax.xaxis.set_minor_locator(MultipleLocator(1 if xstep > 1 else 0.25))
    ax.yaxis.set_major_locator(MultipleLocator(ystep))
    ax.tick_params(which="both", direction="in", top=True, right=True,
                   color=line_col, labelcolor=text_col, labelsize=9.5, width=0.8)
    ax.tick_params(which="major", length=5)
    ax.tick_params(which="minor", length=2.5)
    ax.tick_params(axis="x", pad=5)
    ax.tick_params(axis="y", pad=4)
    for lab in ax.get_yticklabels():
        lab.set_rotation(90)
        lab.set_va("center")
    for sp in ax.spines.values():
        sp.set_color(line_col)
        sp.set_linewidth(0.8)

    fig.text(x0 / W, 1 - (y0 - 4) / H, name, fontsize=12, color=text_col,
             ha="left", va="baseline")

fig.savefig("out.png", dpi=100)
